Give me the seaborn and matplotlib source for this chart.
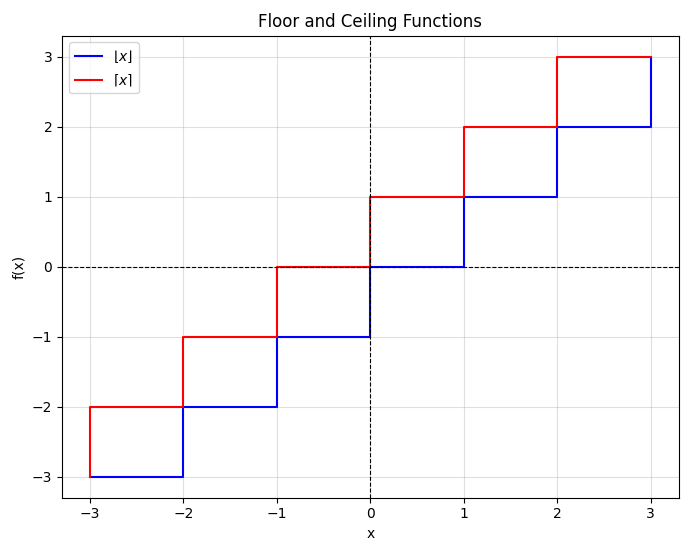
import matplotlib
matplotlib.use("Agg")
import matplotlib.pyplot as plt
import seaborn as sns

x_points = [-3, -2, -1, 0, 1, 2, 3]
floor_vals = [-3, -2, -1, 0, 1, 2, 3]
ceil_vals = [-3, -2, -1, 0, 1, 2, 3]

fig, ax = plt.subplots(figsize=(6.89, 5.47), dpi=100)

sns.lineplot(x=x_points, y=floor_vals, ax=ax, color='blue', drawstyle='steps-post',
             estimator=None, label=r'$\lfloor x \rfloor$')
sns.lineplot(x=x_points, y=ceil_vals, ax=ax, color='red', drawstyle='steps-pre',
             estimator=None, label=r'$\lceil x \rceil$')

ax.axhline(0, color='black', linestyle='--', linewidth=0.8)
ax.axvline(0, color='black', linestyle='--', linewidth=0.8)
ax.grid(True, alpha=0.4)
ax.set_title("Floor and Ceiling Functions")
ax.set_xlabel("x")
ax.set_ylabel("f(x)")
ax.legend(loc='upper left')

plt.subplots_adjust(left=0.09, right=0.985, top=0.935, bottom=0.09)
plt.savefig("out.png", dpi=100)
